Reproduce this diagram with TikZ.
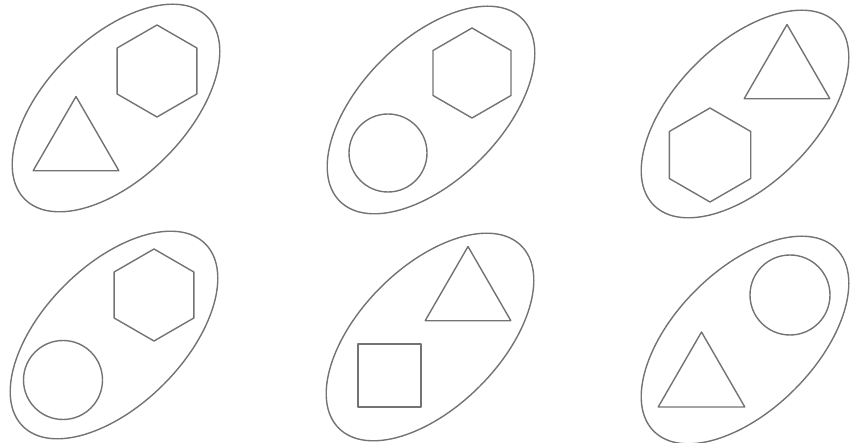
\documentclass[tikz,border=0pt]{standalone}
\usepackage{tikz}
\usetikzlibrary{calc}
\tikzset{
  loop line/.style={line width=1.4pt,draw=black!55},
  piece line/.style={line width=1.4pt,draw=black!55}
}
\newcommand{\LoopOval}[1]{\draw[loop line,rotate around={45:(#1)}] (#1) ellipse [x radius=129,y radius=70];}
\newcommand{\HexPiece}[2]{\draw[piece line,shift={(#1)}] (90:#2) -- (150:#2) -- (210:#2) -- (270:#2) -- (330:#2) -- (30:#2) -- cycle;}
\newcommand{\TriPiece}[2]{\draw[piece line,shift={(#1)}] (90:#2) -- (210:#2) -- (330:#2) -- cycle;}
\newcommand{\RoundPiece}[2]{\draw[piece line] (#1) circle (#2);}
\newcommand{\BoxPiece}[2]{\draw[piece line] ($(#1)+(-#2,-#2)$) rectangle ($(#1)+(#2,#2)$);}

\begin{document}
\begin{tikzpicture}[x=1pt,y=1pt,line cap=round,line join=round]
  \useasboundingbox (0,0) rectangle (851,-443);
  % top row
  \coordinate (e1) at (116,-108);
  \coordinate (h1) at (157,-71);
  \coordinate (t1) at (76,-146);
  \coordinate (e2) at (431,-110);
  \coordinate (h2) at (472,-73);
  \coordinate (c2) at (388,-153);
  \coordinate (e3) at (745,-114);
  \coordinate (t3) at (787,-74);
  \coordinate (h3) at (710,-155);
  % bottom row
  \coordinate (e4) at (114,-335);
  \coordinate (h4) at (154,-295);
  \coordinate (c4) at (63,-380);
  \coordinate (e5) at (430,-337);
  \coordinate (t5) at (468,-296);
  \coordinate (s5) at (389.5,-375.5);
  \coordinate (e6) at (745,-340);
  \coordinate (c6) at (790,-295);
  \coordinate (t6) at (701.5,-382);

  \foreach \p in {e1,e2,e3,e4,e5,e6} {\LoopOval{\p}}
  \HexPiece{h1}{46} \TriPiece{t1}{49.5}
  \HexPiece{h2}{45} \RoundPiece{c2}{39}
  \TriPiece{t3}{49.5} \HexPiece{h3}{47}
  \HexPiece{h4}{46} \RoundPiece{c4}{39.5}
  \TriPiece{t5}{49.5} \BoxPiece{s5}{31.5}
  \RoundPiece{c6}{40} \TriPiece{t6}{50}
\end{tikzpicture}
\end{document}
